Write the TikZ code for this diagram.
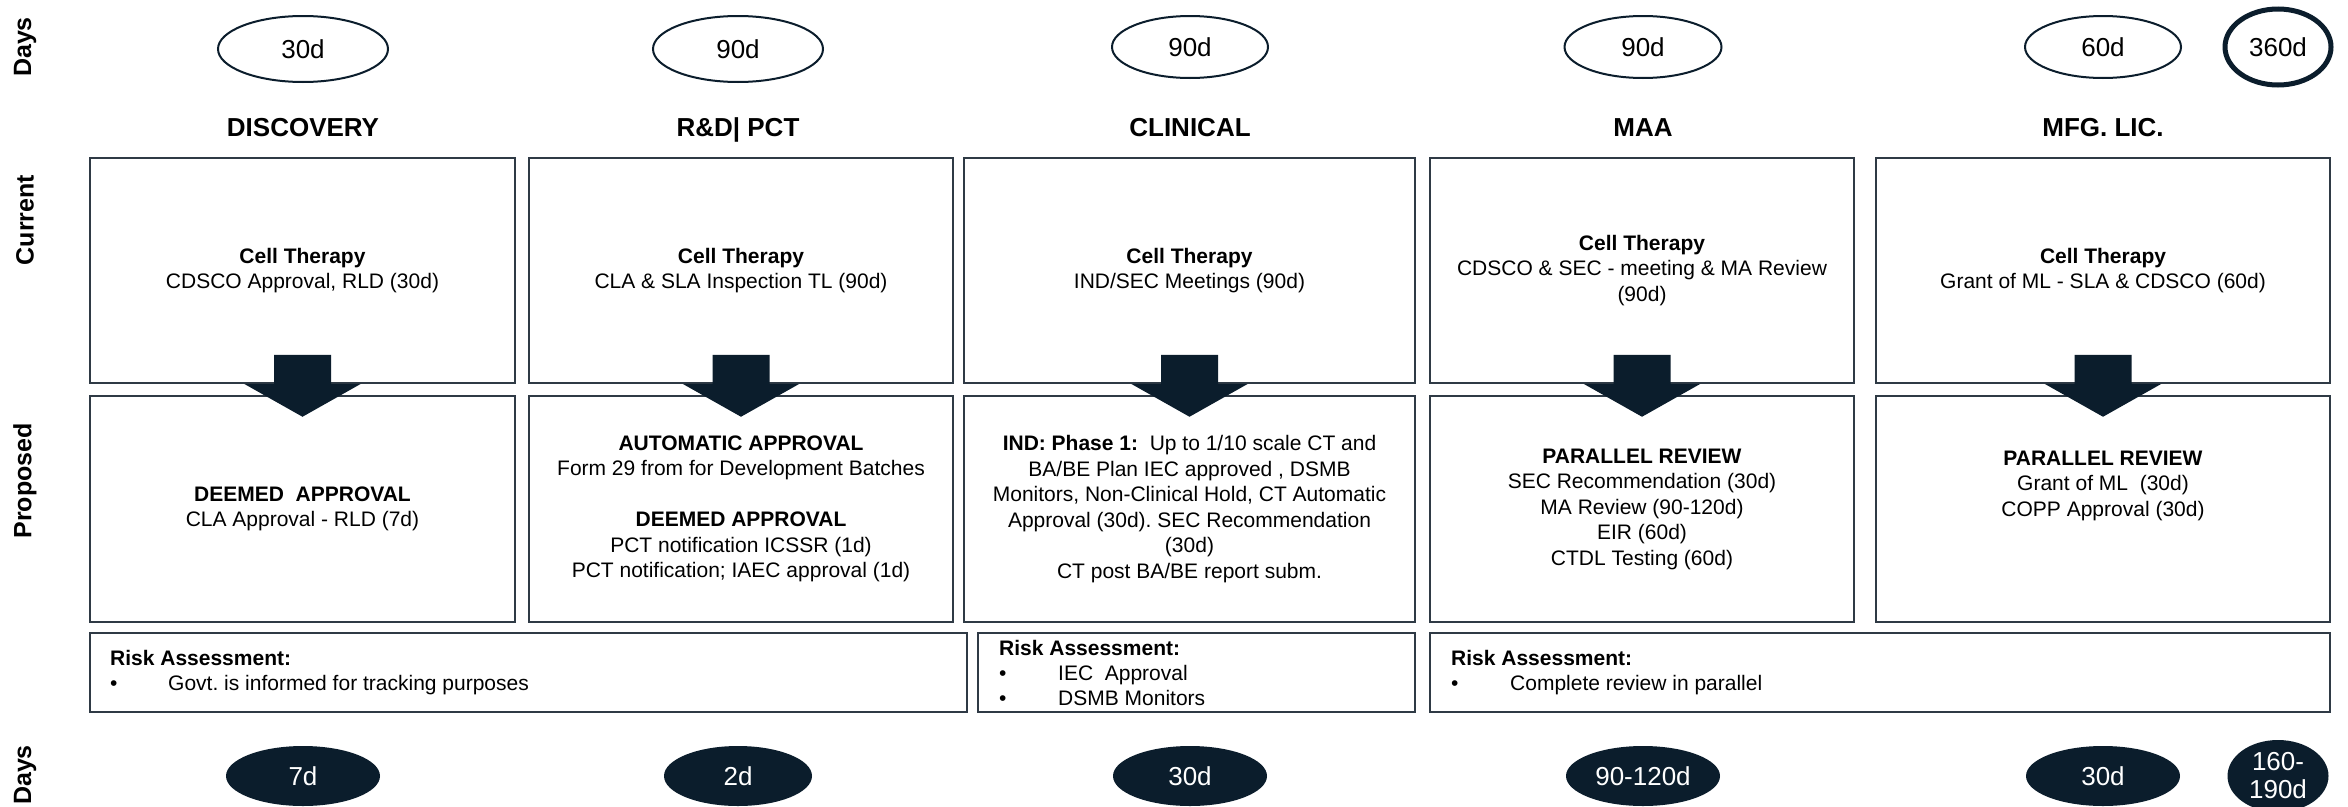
\documentclass[tikz,border=0pt]{standalone}
\usepackage{fontspec}
\setmainfont{Liberation Sans}
\usetikzlibrary{shapes.geometric}
\definecolor{navy}{HTML}{0B1D2C}
\definecolor{rulegray}{HTML}{2F3A45}
\frenchspacing
\begin{document}
\begin{tikzpicture}[x=1pt,y=-1pt,
  box/.style={draw=rulegray, line width=1.5pt, rectangle, inner sep=0pt,
    align=center, font=\fontsize{21}{25.5}\selectfont},
  riskbox/.style={draw=rulegray, line width=1.5pt, rectangle, inner sep=0pt,
    minimum height=79pt},
  risktext/.style={anchor=west, align=left, inner sep=0pt,
    font=\fontsize{21}{25}\selectfont},
  daysoval/.style={ellipse, draw=navy, line width=2pt, fill=white,
    inner sep=0pt, font=\fontsize{26}{28}\selectfont},
  dayspill/.style={ellipse, fill=navy, text=white, inner sep=0pt,
    align=center, font=\fontsize{26}{28}\selectfont},
  phase/.style={anchor=base, inner sep=0pt, font=\bfseries\fontsize{26}{26}\selectfont},
  rowlabel/.style={rotate=90, font=\bfseries\fontsize{25}{25}\selectfont},
  downarrow/.pic={\fill[navy] (-28.5,-29) -- (28.5,-29) -- (28.5,0)
    -- (58.5,0) -- (0,33) -- (-58.5,0) -- (-28.5,0) -- cycle;}
]
% page
\fill[white] (0,0) rectangle (2348,806);
\useasboundingbox (0,0) rectangle (2348,806);

% row labels
\node[rowlabel] (lDaysTop) at (25,47) {Days};
\node[rowlabel] (lCurrent) at (25,220) {Current};
\node[rowlabel] (lProposed) at (25,481) {Proposed};
\node[rowlabel] (lDaysBot) at (25,775) {Days};

% durations of the current process
\node[daysoval, minimum width=170pt, minimum height=66pt] (t1) at (303,49) {30d};
\node[daysoval, minimum width=170pt, minimum height=66pt] (t2) at (738,49) {90d};
\node[daysoval, minimum width=156pt, minimum height=62pt] (t3) at (1190,47) {90d};
\node[daysoval, minimum width=157pt, minimum height=62pt] (t4) at (1643,47) {90d};
\node[daysoval, minimum width=156pt, minimum height=62pt] (t5) at (2103,47) {60d};
\node[daysoval, line width=5pt, minimum width=106pt, minimum height=76pt] (tTotal) at (2278,47) {360d};

% phase titles
\node[phase] (h1) at (303,136) {DISCOVERY};
\node[phase] (h2) at (738,136) {R\&D| PCT};
\node[phase] (h3) at (1190,136) {CLINICAL};
\node[phase] (h4) at (1643,136) {MAA};
\node[phase] (h5) at (2103,136) {MFG. LIC.};

% current process
\node[box, minimum width=425pt, minimum height=225pt] (c1) at (302.5,270.5)
  {\textbf{Cell Therapy}\\CDSCO Approval, RLD (30d)};
\node[box, minimum width=424pt, minimum height=225pt] (c2) at (741,270.5)
  {\textbf{Cell Therapy}\\CLA \& SLA Inspection TL (90d)};
\node[box, minimum width=451pt, minimum height=225pt] (c3) at (1189.5,270.5)
  {\textbf{Cell Therapy}\\IND/SEC Meetings (90d)};
\node[box, minimum width=424pt, minimum height=225pt] (c4) at (1642,270.5)
  {\textbf{Cell Therapy}\\CDSCO \& SEC - meeting \& MA Review\\(90d)};
\node[box, minimum width=454pt, minimum height=225pt] (c5) at (2103,270.5)
  {\textbf{Cell Therapy}\\Grant of ML - SLA \& CDSCO (60d)};

% proposed process
\node[box, minimum width=425pt, minimum height=226pt] (p1) at (302.5,509)
  {\textbf{DEEMED\ \ APPROVAL}\\CLA Approval - RLD (7d)};
\node[box, minimum width=424pt, minimum height=226pt] (p2) at (741,509)
  {\textbf{AUTOMATIC APPROVAL}\\Form 29 from for Development Batches\\[25.5pt]
   \textbf{DEEMED APPROVAL}\\PCT notification ICSSR (1d)\\PCT notification; IAEC approval (1d)};
\node[box, minimum width=451pt, minimum height=226pt] (p3) at (1189.5,509)
  {\textbf{IND: Phase 1:}\ \ Up to 1/10 scale CT and\\BA/BE Plan IEC approved , DSMB\\
   Monitors, Non-Clinical Hold, CT Automatic\\Approval (30d). SEC Recommendation\\
   (30d)\\CT post BA/BE report subm.};
\node[box, minimum width=424pt, minimum height=226pt] (p4) at (1642,509)
  {\textbf{PARALLEL REVIEW}\\SEC Recommendation (30d)\\MA Review (90-120d)\\EIR (60d)\\CTDL Testing (60d)};
\node[box, minimum width=454pt, minimum height=226pt] (p5) at (2103,509)
  {\textbf{PARALLEL REVIEW}\\Grant of ML\ \ (30d)\\COPP Approval (30d)\\[25.5pt]\mbox{}};

% transition arrows
\pic at (c1.south) {downarrow};
\pic at (c2.south) {downarrow};
\pic at (c3.south) {downarrow};
\pic at (c4.south) {downarrow};
\pic at (c5.south) {downarrow};

% risk assessment
\node[riskbox, minimum width=877pt] (r1) at (528.5,672.5) {};
\node[riskbox, minimum width=437pt] (r2) at (1196.5,672.5) {};
\node[riskbox, minimum width=900pt] (r3) at (1880,672.5) {};
\node[risktext] (r1t) at (110,672.5)
  {\textbf{Risk Assessment:}\\\makebox[58pt][l]{\textbullet}Govt. is informed for tracking purposes};
\node[risktext] (r2t) at (999,672.5)
  {\textbf{Risk Assessment:}\\\makebox[59pt][l]{\textbullet}IEC\ \ Approval\\\makebox[59pt][l]{\textbullet}DSMB Monitors};
\node[risktext] (r3t) at (1451,672.5)
  {\textbf{Risk Assessment:}\\\makebox[59pt][l]{\textbullet}Complete review in parallel};

% durations of the proposed process
\node[dayspill, minimum width=154pt, minimum height=60pt] (b1) at (303,776) {7d};
\node[dayspill, minimum width=148pt, minimum height=60pt] (b2) at (738,776) {2d};
\node[dayspill, minimum width=154pt, minimum height=60pt] (b3) at (1190,776) {30d};
\node[dayspill, minimum width=154pt, minimum height=60pt] (b4) at (1643,776) {90-120d};
\node[dayspill, minimum width=154pt, minimum height=60pt] (b5) at (2103,776) {30d};
\node[dayspill, minimum width=101pt, minimum height=72pt] (bTotal) at (2278,776) {160-\\190d};
\end{tikzpicture}
\end{document}
